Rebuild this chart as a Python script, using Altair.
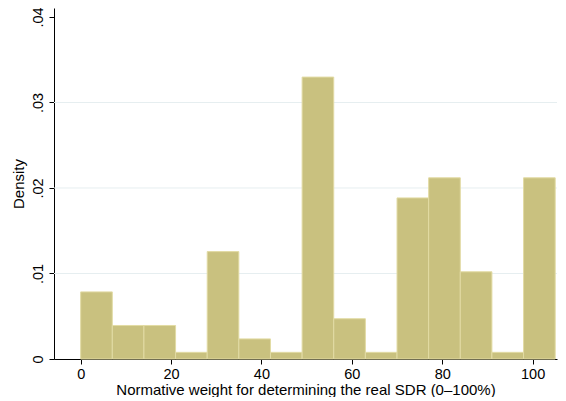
import altair as alt
import pandas as pd

# Histogram bins (Normative weight, 0-100%) and densities
bin_start = [0, 7, 14, 21, 28, 35, 42, 49, 56, 63, 70, 77, 84, 91, 98]
bin_end = [7, 14, 21, 28, 35, 42, 49, 56, 63, 70, 77, 84, 91, 98, 105]
density = [0.00785, 0.00392, 0.00392, 0.00078, 0.01256, 0.00235, 0.00078,
           0.03297, 0.00471, 0.00078, 0.01884, 0.02119, 0.01020, 0.00078, 0.02119]

x_ticks = [0, 20, 40, 60, 80, 100]
y_ticks = [0, 0.01, 0.02, 0.03, 0.04]
grid_vals = [0.01, 0.02, 0.03]

bars = pd.DataFrame({"start": bin_start, "end": bin_end, "density": density})
grid = pd.DataFrame({"g": grid_vals})

FONT = "Liberation Sans"
x_scale = alt.Scale(domain=[-5.9, 105.4], nice=False, zero=False)
y_scale = alt.Scale(domain=[0, 0.04105], nice=False)

y_axis = alt.Axis(values=y_ticks, title="Density", labelAngle=270,
                  labelAlign="center", labelBaseline="bottom",
                  labelPadding=4, titlePadding=4,
                  labelExpr="datum.value == 0 ? '0' : replace(format(datum.value, '.2f'), '0.', '.')")

gridlines = alt.Chart(grid).mark_rule(color="#e6eef0", strokeWidth=1).encode(
    y=alt.Y("g:Q", scale=y_scale, axis=y_axis)
)

hist = alt.Chart(bars).mark_rect(
    color="#c9c17f", stroke="#e2dba4", strokeWidth=1
).encode(
    x=alt.X("start:Q", scale=x_scale,
            axis=alt.Axis(values=x_ticks, title="Normative weight for determining the real SDR (0\u2013100%)",
                          titlePadding=2, labelPadding=3)),
    x2="end:Q",
    y=alt.Y("density:Q", scale=y_scale, axis=y_axis),
    y2=alt.datum(0),
)

chart = alt.layer(gridlines, hist).properties(
    width=503, height=351,
    autosize=alt.AutoSizeParams(type="none"),
    padding={"left": 46, "top": 0, "right": 1, "bottom": 38},
    background="white",
).configure_view(stroke=None).configure_axis(
    grid=False,
    domainColor="black", tickColor="black", tickSize=5,
    labelFont=FONT, titleFont=FONT, labelFontSize=14.5, titleFontSize=15,
    titleFontWeight="normal", labelColor="black", titleColor="black",
)

chart.save("out.html", embed_options={"renderer": "svg", "actions": False})
